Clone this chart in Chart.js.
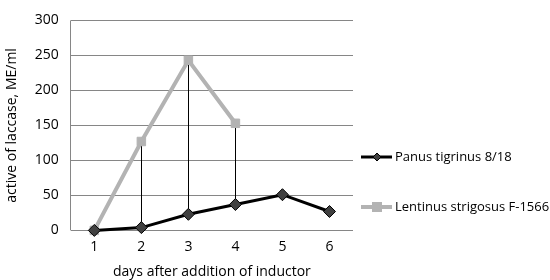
<!DOCTYPE html>
<html>
<head>
<meta charset="utf-8">
<script src="https://cdn.jsdelivr.net/npm/chart.js@4"></script>
<style>
  html, body { margin: 0; padding: 0; background: #fff; }
  #wrap { width: 550px; height: 280px; }
</style>
</head>
<body>
<div id="wrap"><canvas id="canvas"></canvas></div>
<script>
// days on the x axis
let days = ['1', '2', '3', '4', '5', '6'];

// laccase activity, ME/ml
let panus = [0, 4, 23, 37, 51, 27];
let lentinus = [0, 127, 243, 153, null, null];

let seriesNames = ['Panus tigrinus 8/18', 'Lentinus strigosus F-1566'];

let fontName = "'Open Sans', 'Noto Sans', sans-serif";
let axisGrey = '#868686';

// left axis line, thin vertical lines joining the two series at each day
// (like Excel's high-low lines) and a legend drawn as line + marker
let extras = {
  id: 'extras',
  beforeDatasetsDraw(chart) {
    let ctx = chart.ctx;
    let area = chart.chartArea;
    let x = chart.scales.x;
    let y = chart.scales.y;
    ctx.save();
    ctx.beginPath();
    ctx.strokeStyle = axisGrey;
    ctx.lineWidth = 1;
    let ax = Math.round(area.left) - 0.5;
    ctx.moveTo(ax, area.top);
    ctx.lineTo(ax, area.bottom);
    ctx.stroke();

    ctx.strokeStyle = '#000';
    for (let i = 0; i < days.length; i++) {
      if (panus[i] == null || lentinus[i] == null) continue;
      let px = Math.round(x.getPixelForValue(i)) + 0.5;
      ctx.beginPath();
      ctx.moveTo(px, y.getPixelForValue(lentinus[i]));
      ctx.lineTo(px, y.getPixelForValue(panus[i]));
      ctx.stroke();
    }
    ctx.beginPath();
    ctx.restore();
  },
  afterDraw(chart) {
    let ctx = chart.ctx;
    let rows = [157, 207];
    ctx.save();
    ctx.font = '13px ' + fontName;
    ctx.textBaseline = 'middle';
    for (let i = 0; i < 2; i++) {
      let ds = chart.data.datasets[i];
      let yy = rows[i];
      ctx.beginPath();
      ctx.strokeStyle = ds.borderColor;
      ctx.lineWidth = ds.borderWidth;
      ctx.moveTo(361, yy);
      ctx.lineTo(392, yy);
      ctx.stroke();
      ctx.fillStyle = ds.pointBackgroundColor;
      ctx.strokeStyle = ds.pointBorderColor;
      ctx.lineWidth = 1;
      if (ds.pointStyle === 'rectRot') {
        ctx.beginPath();
        ctx.moveTo(377, yy - 4);
        ctx.lineTo(381, yy);
        ctx.lineTo(377, yy + 4);
        ctx.lineTo(373, yy);
        ctx.closePath();
        ctx.fill();
        ctx.stroke();
      } else {
        ctx.fillRect(372, yy - 5, 10, 10);
      }
      ctx.fillStyle = '#000';
      ctx.fillText(seriesNames[i], 395, yy);
    }
    ctx.restore();
  }
};

let options = {
  type: 'line',
  data: {
    labels: days,
    datasets: [
      {
        label: seriesNames[0],
        data: panus,
        borderColor: '#000000',
        borderWidth: 3,
        pointStyle: 'rectRot',
        pointRadius: 6,
        pointBackgroundColor: '#404040',
        pointBorderColor: '#000000',
        pointBorderWidth: 1,
        tension: 0,
        clip: false,
        order: 1
      },
      {
        label: seriesNames[1],
        data: lentinus,
        borderColor: '#b3b3b3',
        borderWidth: 4,
        pointStyle: 'rect',
        pointRadius: 6,
        pointBackgroundColor: '#b3b3b3',
        pointBorderColor: '#b3b3b3',
        pointBorderWidth: 1,
        tension: 0,
        spanGaps: false,
        clip: false,
        order: 2
      }
    ]
  },
  options: {
    responsive: true,
    maintainAspectRatio: false,
    animation: false,
    layout: {
      padding: { left: 4, right: 197, top: 14, bottom: 0 }
    },
    plugins: {
      legend: { display: false },
      tooltip: { enabled: false }
    },
    scales: {
      x: {
        offset: true,
        grid: { display: false, drawTicks: false },
        border: { display: false },
        ticks: { color: '#000', font: { family: fontName, size: 14 }, padding: 8 },
        title: {
          display: true,
          text: 'days after addition of inductor',
          color: '#000',
          font: { family: fontName, size: 14 },
          padding: { top: 0, bottom: 0 }
        }
      },
      y: {
        min: 0,
        max: 300,
        ticks: { stepSize: 50, color: '#000', font: { family: fontName, size: 14 }, padding: 12 },
        grid: { color: axisGrey, drawTicks: false },
        border: { display: false },
        title: {
          display: true,
          text: 'active of laccase, ME/ml',
          color: '#000',
          font: { family: fontName, size: 14 },
          padding: { top: 0, bottom: 2 }
        }
      }
    }
  },
  plugins: [extras]
};

let chart = new Chart(document.getElementById('canvas'), options);
</script>
</body>
</html>
